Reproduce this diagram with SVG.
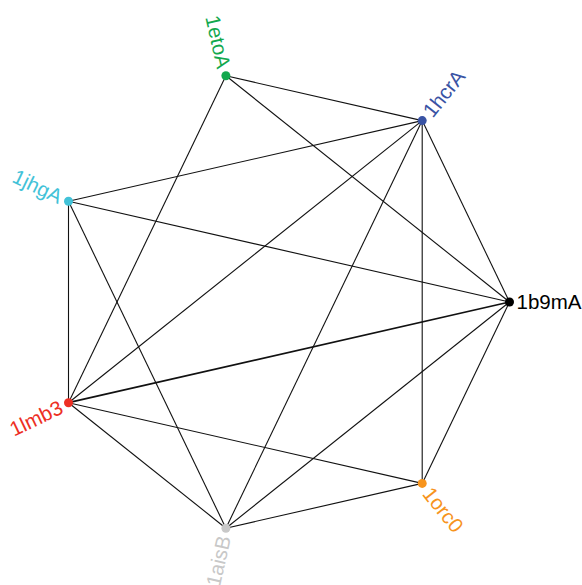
<svg xmlns="http://www.w3.org/2000/svg" width="582" height="585" viewBox="0 0 582 585">
<style>
.e{stroke:#111;stroke-width:1.1;fill:none}
.l{font-family:"Liberation Sans",Arial,sans-serif;font-size:20.5px}
</style>
<rect width="582" height="585" fill="#fff"/>
<g id="connectors">
<line class="e" x1="225.9" y1="75.8" x2="422.2" y2="120.6"/>
<line class="e" x1="225.9" y1="75.8" x2="509.5" y2="302"/>
<line class="e" x1="225.9" y1="75.8" x2="68.5" y2="402.7"/>
<line class="e" x1="422.2" y1="120.6" x2="68.5" y2="201.3"/>
<line class="e" x1="422.2" y1="120.6" x2="68.5" y2="402.7"/>
<line class="e" x1="422.2" y1="120.6" x2="225.9" y2="528.2"/>
<line class="e" x1="422.2" y1="120.6" x2="422.2" y2="483.4"/>
<line class="e" x1="422.2" y1="120.6" x2="509.5" y2="302"/>
<line class="e" x1="68.5" y1="201.3" x2="509.5" y2="302"/>
<line class="e" x1="68.5" y1="201.3" x2="68.5" y2="402.7"/>
<line class="e" x1="68.5" y1="201.3" x2="225.9" y2="528.2"/>
<line class="e" x1="68.5" y1="402.7" x2="509.5" y2="302" style="stroke-width:1.7"/>
<line class="e" x1="68.5" y1="402.7" x2="422.2" y2="483.4"/>
<line class="e" x1="68.5" y1="402.7" x2="225.9" y2="528.2"/>
<line class="e" x1="509.5" y1="302" x2="225.9" y2="528.2"/>
<line class="e" x1="509.5" y1="302" x2="422.2" y2="483.4"/>
<line class="e" x1="225.9" y1="528.2" x2="422.2" y2="483.4"/>
</g>
<g id="n-1b9mA" transform="translate(509.5,302)">
<circle r="4.5" fill="#000"/>
<text class="l" x="7" dy="0.35em" fill="#000">1b9mA</text>
</g>
<g id="n-1hcrA" transform="translate(422.2,120.6)">
<circle r="4.5" fill="#3953a4"/>
<text class="l" x="8" dy="0.35em" fill="#3953a4" transform="rotate(-51.43)">1hcrA</text>
</g>
<g id="n-1etoA" transform="translate(225.9,75.8)">
<circle r="4.5" fill="#12a84e"/>
<text class="l" x="-8" dy="0.35em" text-anchor="end" fill="#12a84e" transform="rotate(77.14)">1etoA</text>
</g>
<g id="n-1jhgA" transform="translate(68.5,201.3)">
<circle r="4.5" fill="#42c2d8"/>
<text class="l" x="-8" dy="0.35em" text-anchor="end" fill="#42c2d8" transform="rotate(25.71)">1jhgA</text>
</g>
<g id="n-1lmb3" transform="translate(68.5,402.7)">
<circle r="4.5" fill="#ed2f24"/>
<text class="l" x="-8" dy="0.35em" text-anchor="end" fill="#ed2f24" transform="rotate(-25.71)">1lmb3</text>
</g>
<g id="n-1aisB" transform="translate(225.9,528.2)">
<circle r="4.5" fill="#c8c8c8"/>
<text class="l" x="-8" dy="0.35em" text-anchor="end" fill="#c8c8c8" transform="rotate(-77.14)">1aisB</text>
</g>
<g id="n-1orc0" transform="translate(422.2,483.4)">
<circle r="4.5" fill="#f7941d"/>
<text class="l" x="8" dy="0.35em" fill="#f7941d" transform="rotate(51.43)">1orc0</text>
</g>
</svg>
